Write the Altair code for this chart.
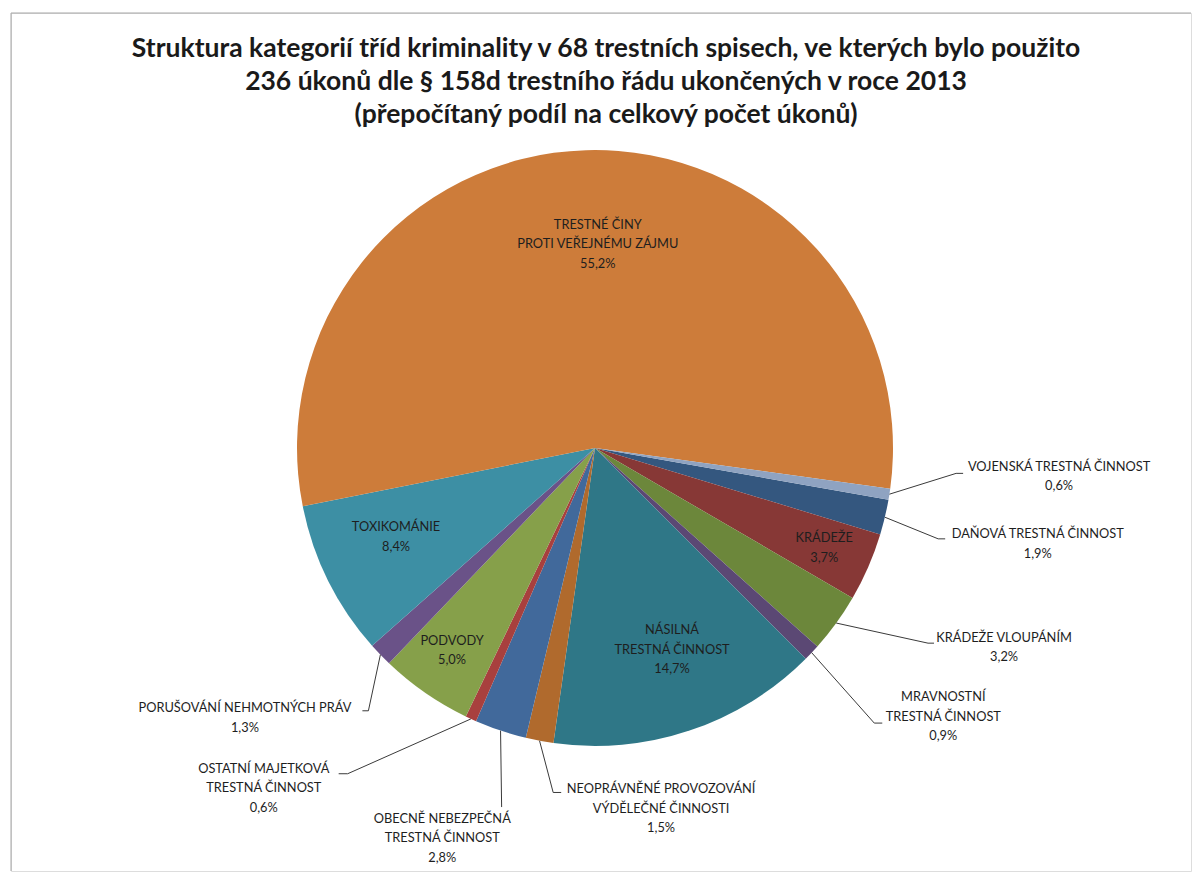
import math
import altair as alt
import pandas as pd

# ---------------- data ----------------
categories = [
    "DAŇOVÁ TRESTNÁ ČINNOST",
    "KRÁDEŽE",
    "KRÁDEŽE VLOUPÁNÍM",
    "MRAVNOSTNÍ TRESTNÁ ČINNOST",
    "NÁSILNÁ TRESTNÁ ČINNOST",
    "NEOPRÁVNĚNÉ PROVOZOVÁNÍ VÝDĚLEČNÉ ČINNOSTI",
    "OBECNĚ NEBEZPEČNÁ TRESTNÁ ČINNOST",
    "OSTATNÍ MAJETKOVÁ TRESTNÁ ČINNOST",
    "PODVODY",
    "PORUŠOVÁNÍ NEHMOTNÝCH PRÁV",
    "TOXIKOMÁNIE",
    "TRESTNÉ ČINY PROTI VEŘEJNÉMU ZÁJMU",
    "VOJENSKÁ TRESTNÁ ČINNOST",
]
# how each category name is broken into lines in its data label
label_names = [
    "DAŇOVÁ TRESTNÁ ČINNOST",
    "KRÁDEŽE",
    "KRÁDEŽE VLOUPÁNÍM",
    "MRAVNOSTNÍ\nTRESTNÁ ČINNOST",
    "NÁSILNÁ\nTRESTNÁ ČINNOST",
    "NEOPRÁVNĚNÉ PROVOZOVÁNÍ\nVÝDĚLEČNÉ ČINNOSTI",
    "OBECNĚ NEBEZPEČNÁ\nTRESTNÁ ČINNOST",
    "OSTATNÍ MAJETKOVÁ\nTRESTNÁ ČINNOST",
    "PODVODY",
    "PORUŠOVÁNÍ NEHMOTNÝCH PRÁV",
    "TOXIKOMÁNIE",
    "TRESTNÉ ČINY\nPROTI VEŘEJNÉMU ZÁJMU",
    "VOJENSKÁ TRESTNÁ ČINNOST",
]
shares = [1.9, 3.7, 3.2, 0.9, 14.7, 1.5, 2.8, 0.6, 5.0, 1.3, 8.4, 55.2, 0.6]

title_lines = [
    "Struktura kategorií tříd kriminality v 68 trestních spisech, ve kterých bylo použito",
    "236 úkonů dle § 158d trestního řádu ukončených v roce 2013",
    "(přepočítaný podíl na celkový počet úkonů)",
]

# ---------------- styles / layout ----------------
colors = [
    "#34577F", "#873836", "#6C873B", "#5B4874", "#2F7787", "#B06A2D", "#41699B",
    "#A8403E", "#86A04A", "#6A5288", "#3D8FA4", "#CD7C3A", "#8FA3C1",
]
W, H = 1180, 858          # view size
CX, CY = 584, 435         # pie centre inside the view
R = 298                   # pie radius
START = 100.0             # angle of first slice (degrees, clockwise from 12 o'clock)
FONT = "Lato"
LH = 19.5                 # label line height

# label placement: ("in", angle_shift, radius) or
# ("out", angle_shift, radius, elbow_angle_shift, elbow_radius, horizontal_tail)
# angle shifts are relative to the slice's own mid-angle; radius is to the
# vertical middle of the label block
label_layout = {
    "TRESTNÉ ČINY PROTI VEŘEJNÉMU ZÁJMU": ("in", 2.5, 204),
    "TOXIKOMÁNIE": ("in", 2.3, 218),
    "PODVODY": ("in", 0.5, 248),
    "NÁSILNÁ TRESTNÁ ČINNOST": ("in", -2.4, 216),
    "KRÁDEŽE": ("in", 0.0, 250),
    "VOJENSKÁ TRESTNÁ ČINNOST": ("out", -5.4, 465, -4.9, 362, 7),
    "DAŇOVÁ TRESTNÁ ČINNOST": ("out", -1.2, 453, 1.4, 355, 7),
    "KRÁDEŽE VLOUPÁNÍM": ("out", -10.0, 455, -5.6, 386, 6),
    "MRAVNOSTNÍ TRESTNÁ ČINNOST": ("out", -5.7, 440, 1.2, 392, 8),
    "NEOPRÁVNĚNÉ PROVOZOVÁNÍ VÝDĚLEČNÉ ČINNOSTI": ("out", -21.1, 367, -3.8, 347, 8),
    "OBECNĚ NEBEZPEČNÁ TRESTNÁ ČINNOST": ("out", 2.9, 419, -3.9, 371, 0),
    "OSTATNÍ MAJETKOVÁ TRESTNÁ ČINNOST": ("out", 19.6, 475, 12.6, 409, -9),
    "PORUŠOVÁNÍ NEHMOTNÝCH PRÁV": ("out", 6.3, 442, -5.3, 347, -6),
}


def polar(angle_deg, r):
    a = math.radians(angle_deg)
    return CX + r * math.sin(a), CY - r * math.cos(a)


total = sum(shares)
slice_df = pd.DataFrame({"category": categories, "share": shares, "order": list(range(len(categories)))})

label_rows, seg_rows = [], []
cum = 0.0
for name, lname, v in zip(categories, label_names, shares):
    mid = START + 360.0 * (cum + v / 2.0) / total
    cum += v
    pct = f"{v:.1f}".replace(".", ",") + "%"
    text = lname + "\n" + pct
    n_lines = text.count("\n") + 1
    spec = label_layout[name]
    tx, ty = polar(mid + spec[1], spec[2])
    # Vega places the first line at y: shift so the block is centred on ty
    ty -= (n_lines - 1) * LH / 2.0
    label_rows.append({"x": tx, "y": ty, "text": text})
    if spec[0] == "out":
        sx, sy = polar(mid, R)
        ex, ey = polar(mid + spec[3], spec[4])
        seg_rows.append({"x": sx, "y": sy, "x2": ex, "y2": ey})
        if spec[5] != 0:
            seg_rows.append({"x": ex, "y": ey, "x2": ex + spec[5], "y2": ey})

label_df = pd.DataFrame(label_rows)
seg_df = pd.DataFrame(seg_rows)

start_rad = math.radians(START)

pie = alt.Chart(slice_df).mark_arc(radius=R).encode(
    x=alt.value(CX),
    y=alt.value(CY),
    theta=alt.Theta("share:Q", stack=True,
                    scale=alt.Scale(range=[start_rad, start_rad + 2 * math.pi])),
    color=alt.Color("category:N", scale=alt.Scale(domain=categories, range=colors), legend=None),
    order=alt.Order("order:Q"),
)

leaders = alt.Chart(seg_df).mark_rule(color="#3A3A3A", strokeWidth=1).encode(
    x=alt.X("x:Q", scale=None, axis=None),
    y=alt.Y("y:Q", scale=None, axis=None),
    x2="x2:Q",
    y2="y2:Q",
)

labels = alt.Chart(label_df).mark_text(
    font=FONT, fontSize=12.8, lineBreak="\n", lineHeight=LH,
    align="center", baseline="middle", color="#1E1E1E",
).encode(
    x=alt.X("x:Q", scale=None, axis=None),
    y=alt.Y("y:Q", scale=None, axis=None),
    text="text:N",
)

frame_top = alt.Chart(pd.DataFrame({"k": [0]})).mark_rule(color="#A6A6A6", strokeWidth=1).encode(
    x=alt.value(0), x2=alt.value(W), y=alt.value(0)
)
frame_left = alt.Chart(pd.DataFrame({"k": [0]})).mark_rule(color="#A6A6A6", strokeWidth=1).encode(
    x=alt.value(0), y=alt.value(0), y2=alt.value(H)
)

chart = alt.layer(frame_top, frame_left, pie, leaders, labels).properties(
    width=W,
    height=H,
    padding={"left": 2, "top": 4, "right": 0, "bottom": 0},
    title=alt.TitleParams(
        text=title_lines,
        font=FONT, fontSize=26.5, fontWeight="bold", color="#1A1A1A",
        lineHeight=33, anchor="middle", frame="group",
        baseline="top", offset=-116, dx=5,
    ),
).configure_view(stroke="transparent", strokeWidth=0).configure(background="white")

chart.save("out.html", embed_options={"renderer": "svg", "actions": False})
